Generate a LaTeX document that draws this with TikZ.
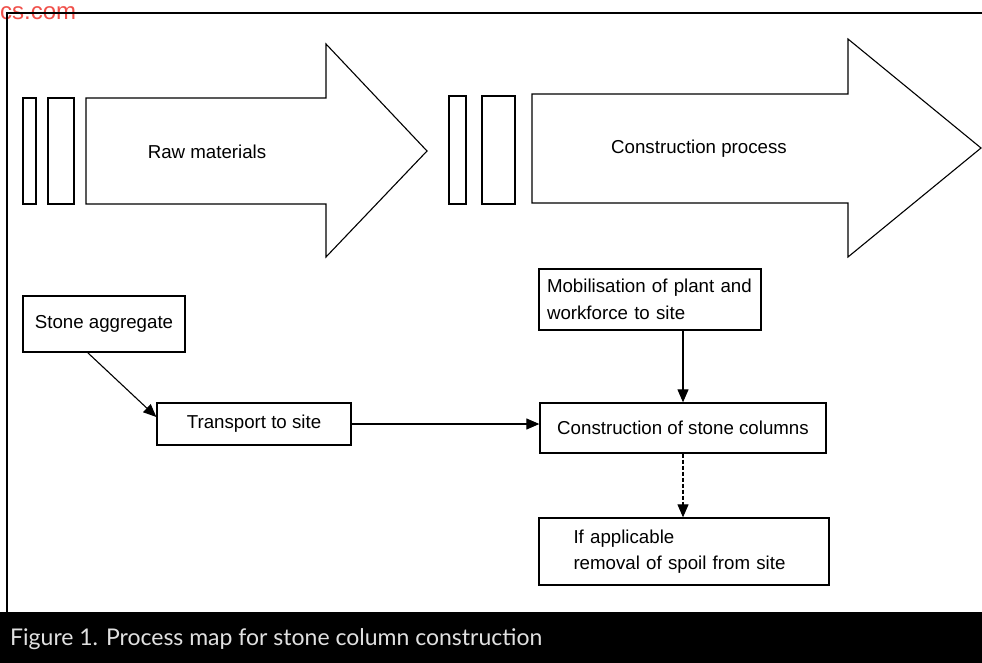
\documentclass[tikz,border=0pt]{standalone}
\usepackage{fontspec}
\setmainfont{Liberation Sans}
\newfontfamily\capfont{Lato}
\usetikzlibrary{arrows.meta,calc}
\definecolor{wmred}{HTML}{F0504A}
\tikzset{
  boxtext/.style={font=\fontsize{18.7}{26.5}\selectfont},
  procbox/.style={draw, line width=1.3pt, boxtext, inner sep=0pt},
  shapeline/.style={draw, line width=1.1pt, line join=miter},
  conn/.style={line width=1.1pt, -{Triangle[length=13pt,width=11pt]}},
}
\begin{document}
\begin{tikzpicture}[x=1pt,y=-1pt]
\useasboundingbox (0,0) rectangle (982,663);
% watermark
\node[anchor=base west, inner sep=0pt, text=wmred, font=\fontsize{24}{24}\selectfont] (wm) at (0,20) {cs.com};
% frame
\draw[line width=1.5pt] (982,13) -- (7,13) -- (7,612);
% caption band
\fill[black] (0,612) rectangle (982,663);
\node[anchor=west, inner sep=0pt, text=white!88!black, font=\capfont\fontsize{23}{23}\selectfont] (cap) at (10,639) {Figure 1. Process map for stone column construction};
% first group
\draw[shapeline] (23,98) rectangle (36,204);
\draw[shapeline] (48,98) rectangle (74,204);
\draw[shapeline] (86,98) -- (326,98) -- (326,44) -- (427,151) -- (326,257) -- (326,204) -- (86,204) -- cycle;
\node[boxtext] (raw) at (207,152) {Raw materials};
% second group
\draw[shapeline] (449,96) rectangle (466,204);
\draw[shapeline] (482,96) rectangle (515,204);
\draw[shapeline] (532,94) -- (848,94) -- (848,39) -- (981,148) -- (848,257) -- (848,203) -- (532,203) -- cycle;
\node[boxtext] (cp) at (699,149) {Construction process};
% process boxes
\node[procbox, minimum width=162pt, minimum height=56pt] (sa) at (104,324) {Stone aggregate};
\node[procbox, minimum width=194pt, minimum height=42pt] (tr) at (254,424) {Transport to site};
\node[procbox, minimum height=61pt, text width=206pt, inner xsep=8pt, align=left] (mob) at (650,299.5) {Mobilisation of plant and\\workforce to site};
\node[procbox, minimum width=286pt, minimum height=50pt] (con) at (683,428) {Construction of stone columns};
\node[procbox, minimum height=67pt, text width=255pt, inner xsep=17.5pt, align=left] (ifa) at (684,551.5) {\hspace*{17pt}If applicable\\\hspace*{17pt}removal of spoil from site};
% connectors
\draw[conn] ($(sa.south west)!0.4!(sa.south east)$) -- ([yshift=7pt]tr.west);
\draw[conn] (tr.east) -- (tr.east -| con.west);
\draw[conn] (mob.south -| con.north) -- (con.north);
\draw[conn, dash pattern=on 4pt off 2pt] (con.south) -- (con.south |- ifa.north);
\end{tikzpicture}
\end{document}
